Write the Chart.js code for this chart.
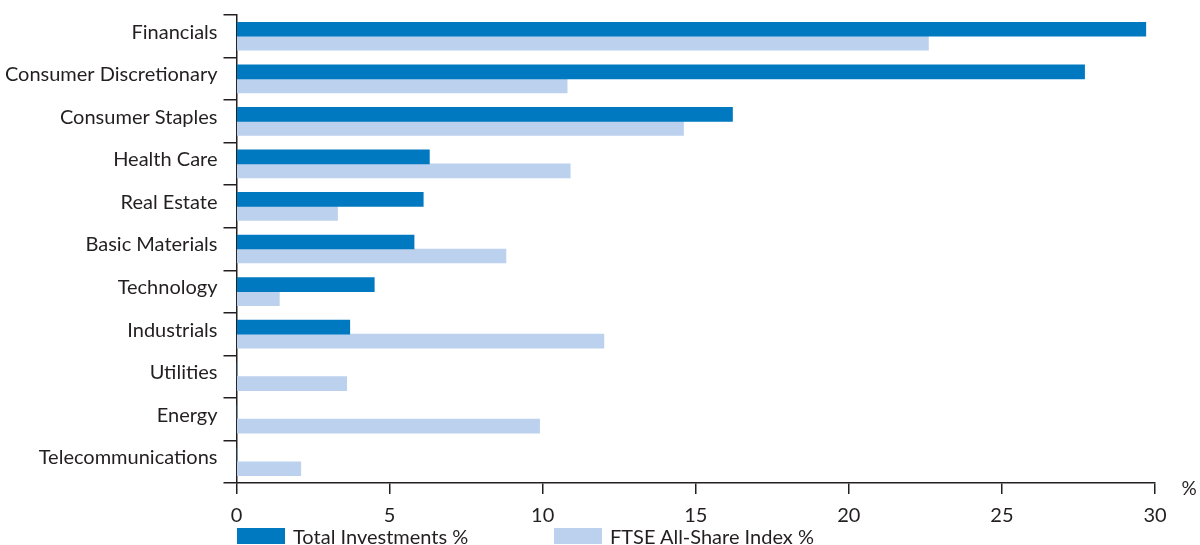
<!DOCTYPE html>
<html>
<head>
<meta charset="utf-8">
<script src="https://cdn.jsdelivr.net/npm/chart.js@4"></script>
<style>
  body { margin: 0; background: #fff; font-family: Lato, sans-serif; color: #231f20; }
  .wrap { position: relative; width: 1200px; height: 545px; }
  .legend { position: absolute; top: 526px; left: 0; font-size: 20px; line-height: 20px; }
  .legend-item { position: absolute; white-space: nowrap; display: flex; align-items: center; }
  .legend-box { width: 48px; height: 16px; margin-right: 8px; }
</style>
</head>
<body>
<div class="wrap">
  <canvas id="chart" width="1200" height="545"></canvas>
  <div class="legend" id="legend"></div>
</div>
<script>
// === DATA ===
const categories = ['Financials', 'Consumer Discretionary', 'Consumer Staples', 'Health Care', 'Real Estate',
  'Basic Materials', 'Technology', 'Industrials', 'Utilities', 'Energy', 'Telecommunications'];
const totalInvestments = [29.7, 27.7, 16.2, 6.3, 6.1, 5.8, 4.5, 3.7, 0, 0, 0];
const ftseAllShare = [22.6, 10.8, 14.6, 10.9, 3.3, 8.8, 1.4, 12.0, 3.6, 9.9, 2.1];
const seriesNames = ['Total Investments %', 'FTSE All-Share Index %'];
const xTicks = [0, 5, 10, 15, 20, 25, 30];

const DARK = '#0079c1', LIGHT = '#bbd1ed', INK = '#231f20';
const FONT = 'Lato, sans-serif';

// "%" unit next to the end of the x axis
const unitLabel = {
  id: 'unitLabel',
  afterDraw(chart) {
    const { ctx, chartArea } = chart;
    ctx.save();
    ctx.fillStyle = INK;
    ctx.font = `19px ${FONT}`;
    ctx.textAlign = 'center';
    ctx.textBaseline = 'middle';
    ctx.fillText('%', chartArea.right + 34, chartArea.bottom + 6);
    ctx.restore();
  }
};

new Chart(document.getElementById('chart'), {
  type: 'bar',
  data: {
    labels: categories,
    datasets: [
      { label: seriesNames[0], data: totalInvestments, backgroundColor: DARK, barThickness: 14, categoryPercentage: 0.8 },
      { label: seriesNames[1], data: ftseAllShare, backgroundColor: LIGHT, barThickness: 14, categoryPercentage: 0.8 }
    ]
  },
  options: {
    indexAxis: 'y',
    responsive: false,
    animation: false,
    layout: { padding: { top: 0, right: 45, left: 0, bottom: 0 } },
    plugins: { legend: { display: false }, tooltip: { enabled: false } },
    scales: {
      x: {
        min: 0, max: 30,
        afterBuildTicks: s => { s.ticks = xTicks.map(v => ({ value: v })); },
        afterFit: s => { s.height = 62; },
        grid: { drawOnChartArea: false, color: INK, lineWidth: 1.5, tickLength: 11 },
        border: { color: INK, width: 1.5 },
        ticks: { color: INK, font: { family: FONT, size: 20 }, padding: 10, maxRotation: 0 }
      },
      y: {
        afterFit: s => { s.width = 236.5; },
        grid: { drawOnChartArea: false, color: INK, lineWidth: 1.5, tickLength: 13, offset: true },
        border: { color: INK, width: 1.5 },
        ticks: { color: INK, font: { family: FONT, size: 20, lineHeight: 0.9 }, padding: 6, labelOffset: -4 }
      }
    }
  },
  plugins: [unitLabel]
});

// legend as html, left edges
const legendEl = document.getElementById('legend');
[[seriesNames[0], DARK, 237], [seriesNames[1], LIGHT, 554]].forEach(([name, color, left]) => {
  legendEl.innerHTML += `<div class="legend-item" style="left:${left}px"><span class="legend-box" style="background:${color}"></span>${name}</div>`;
});
</script>
</body>
</html>
